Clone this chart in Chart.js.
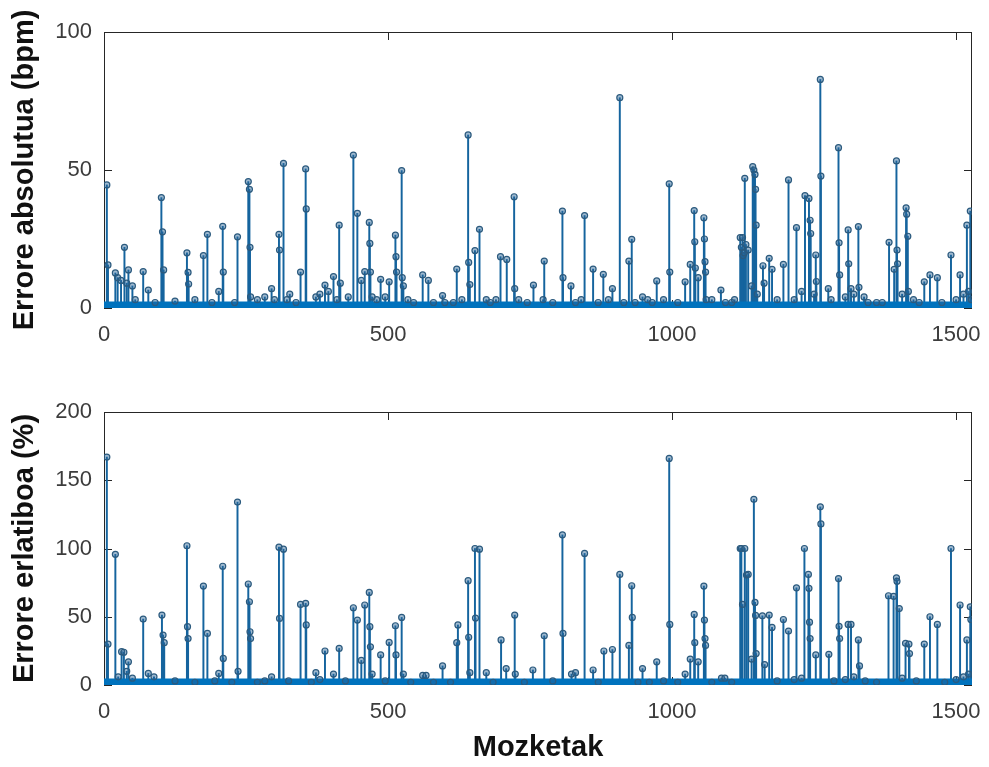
<!DOCTYPE html>
<html>
<head>
<meta charset="utf-8">
<script src="https://cdn.jsdelivr.net/npm/chart.js@4.4.1/dist/chart.umd.min.js"></script>
<style>
  html,body{margin:0;padding:0;background:#fff;}
  #wrap{position:relative;width:989px;height:767px;overflow:hidden;}
  canvas{position:absolute;left:0;}
</style>
</head>
<body>
<div id="wrap">
  <canvas id="c-abs" width="989" height="380" style="top:0"></canvas>
  <canvas id="c-rel" width="989" height="387" style="top:380px"></canvas>
</div>
<script>
// x axis
const X_MAX = 1528;
const X_TICKS = [0, 500, 1000, 1500];

// goiko grafikoa: errore absolutua (bpm)
const ABS_IDX = [
  5,7,20,24,30,36,40,43,50,55,
  69,78,90,101,103,105,125,146,148,149,
  160,175,182,190,202,209,210,230,235,254,
  256,257,258,270,283,295,300,308,309,316,
  322,327,338,346,355,356,373,380,389,395,
  404,410,414,416,430,439,446,453,459,467,
  468,469,472,480,487,495,502,513,514,515,
  524,525,527,535,545,561,571,580,596,600,
  615,621,630,641,642,644,653,661,673,680,
  690,698,709,722,723,730,745,756,773,775,
  790,807,808,822,830,840,846,861,870,879,
  888,895,908,915,924,929,935,948,957,965,
  973,985,995,996,1010,1023,1032,1039,1040,1041,
  1046,1056,1057,1058,1059,1060,1070,1086,1094,1105,
  1110,1120,1122,1124,1125,1127,1128,1130,1134,1140,
  1142,1144,1146,1147,1148,1150,1160,1162,1171,1176,
  1185,1196,1205,1215,1219,1228,1234,1241,1243,1244,
  1250,1253,1254,1261,1262,1275,1280,1293,1294,1295,
  1305,1310,1311,1315,1320,1328,1329,1338,1345,1360,
  1370,1382,1391,1395,1396,1397,1405,1412,1413,1415,
  1416,1425,1435,1444,1454,1467,1475,1491,1500,1507,
  1513,1519,1522,1525,1527
];
const ABS_VAL = [
  44.6,15.6,12.7,11,10,22,9,13.8,8,3,
  13.2,6.5,2,40,27.6,13.8,2.5,20,12.9,8.7,
  3,19,26.7,2,6,29.6,13,2,25.8,45.8,
  43,22,4,3,4,7,3,26.7,21,52.4,
  3,5,2,13,50.4,35.9,4,5,8.3,6,
  11.4,3,30,9,4,55.4,34.3,10,13.2,31,
  23.4,13,4,3,10.4,4,9.5,26.4,18.6,13,
  49.8,11,8,3,2,12,10,2,4.5,2,
  2,14.1,3,62.7,16.5,8.5,20.8,28.5,3,2,
  3,18.6,17.6,40.3,7,3,2,8.3,3,17,
  2,35.1,11,8,2,3,33.5,14.1,2,12.2,
  3,7,76.2,2,17,24.9,2,4,3,2,
  9.8,3,45,13,2,9.5,15.8,35.3,24,14.5,
  11,32.7,25,16.8,13,3,3,6.5,2,2,
  3,25.5,22,25.5,19,20,47,23,21,8,
  51.2,50,48.4,43,30,5,15.3,9,18,14,
  3,15.8,46.4,3,29.1,6,40.7,39.7,31.8,27,
  5,19.2,9.6,82.8,47.8,7,3,58.1,23.6,12,
  4,28.3,16,7,5,29.5,7.5,4,2,2,
  2,23.8,14,53.3,21,16,5,36.3,34,26,
  6,3,2,9.5,12,11,2,19.2,3,12,
  5,30,6,35.1,3
];
const ABS_TICKS = [0, 50, 100];

// beheko grafikoa: errore erlatiboa (%)
const REL_IDX = [
  5,7,20,25,31,35,40,43,50,69,
  78,88,102,104,106,125,146,147,148,160,
  175,182,195,202,209,210,225,235,236,254,
  256,257,258,270,283,295,308,309,316,325,
  346,355,356,365,373,380,389,404,414,425,
  439,446,453,459,467,468,469,472,487,495,
  502,513,514,524,527,540,561,567,580,596,
  610,621,623,641,642,644,653,654,661,673,
  685,699,708,723,724,740,755,775,790,807,
  808,823,830,846,861,870,880,895,908,924,
  929,930,940,948,960,973,985,995,996,1010,
  1023,1032,1039,1040,1046,1056,1057,1058,1059,1070,
  1087,1093,1105,1120,1122,1124,1128,1131,1134,1140,
  1144,1146,1147,1148,1159,1163,1171,1176,1185,1196,
  1205,1215,1219,1228,1233,1240,1241,1242,1243,1253,
  1261,1262,1276,1285,1293,1294,1295,1305,1310,1315,
  1320,1328,1330,1340,1360,1381,1390,1395,1396,1400,
  1405,1411,1417,1418,1430,1444,1454,1467,1480,1491,
  1500,1507,1513,1519,1522,1525,1526
];
const REL_VAL = [
  167,30,95.7,6,24.4,24,10,17,5,48.3,
  8.5,6,51.2,36.6,31,3,102,42.7,34,2,
  72.5,37.8,3,8.5,87,19.5,2,134,10,74,
  61,39,34,2,3,6,101,48.8,99.5,3,
  59,59.8,44,2,9,4,24.9,8,26.8,3,
  56.6,47.6,18,58.6,67.8,42.7,28,8,22,3,
  31.2,43.4,22,49.5,8,2,7,7,2,14,
  2,31,44,76.4,35,9,100,49,99.5,9,
  2,33,12,51.2,8,2,11,36,3,110,
  37.8,8,9,96.4,11,2,24.9,26,81,29,
  72.7,49.5,2,12,2,17,3,166,44.4,2,
  8,19,51.7,31,17,72.5,47.6,34,29,2,
  5,5,2,100,100,59,100,80.5,81,19,
  136,60.5,51,23,50.7,15,51.2,42.2,3,48,
  39.5,4,71.2,5,100,81,70.8,46,34,22,
  130.5,118,22.5,3,78,43,34,4,44.4,44.4,
  6,33,14,3,2,65.4,65,78.5,76,56,
  5,30.5,30,23,3,30,50,44.4,2,100,
  4,58.6,6,33,8,57.3,48
];
const REL_TICKS = [0, 50, 100, 150, 200];

const FONT = "'Liberation Sans', Arial, Helvetica, sans-serif";
const STEM = "#15649e";
const BASE = "#0072BD";
const AXIS = "#262626";

// MATLAB itxurako kutxa eta barnerako tick-ak
const boxPlugin = {
  id: "box",
  beforeDatasetsDraw(chart) {
    const {ctx, chartArea: a, scales: {x, y}} = chart;
    ctx.save();
    ctx.strokeStyle = AXIS;
    ctx.lineWidth = 1;
    ctx.strokeRect(a.left + 0.5, a.top + 0.5, a.right - a.left - 1, a.bottom - a.top - 1);
    ctx.beginPath();
    x.ticks.forEach(t => {
      const px = Math.round(x.getPixelForValue(t.value)) + 0.5;
      ctx.moveTo(px, a.top); ctx.lineTo(px, a.top + 8);
      ctx.moveTo(px, a.bottom); ctx.lineTo(px, a.bottom - 8);
    });
    y.ticks.forEach(t => {
      const py = Math.round(y.getPixelForValue(t.value)) + 0.5;
      ctx.moveTo(a.left, py); ctx.lineTo(a.left + 8, py);
      ctx.moveTo(a.right, py); ctx.lineTo(a.right - 8, py);
    });
    ctx.stroke();
    ctx.restore();
  }
};

function makeStem(id, idx, vals, yMax, yTicks, yTitle, xTitle, xAxisH) {
  const pts = idx.map((x, i) => ({x, y: vals[i]}));
  return new Chart(document.getElementById(id), {
    type: "bar",
    data: {
      datasets: [
        {
          type: "scatter", data: pts, order: 0,
          pointRadius: 3, pointBorderWidth: 1.2,
          pointBorderColor: "#2b5a7e", pointBackgroundColor: "rgba(40,100,150,0.45)",
          showLine: false
        },
        {
          type: "line", data: [{x: 0, y: 0}, {x: X_MAX, y: 0}], order: 1,
          borderColor: BASE, borderWidth: 13, pointRadius: 0, clip: 0
        },
        {
          type: "bar", data: pts, order: 2,
          backgroundColor: STEM, borderWidth: 0, barThickness: 1.3, grouped: false
        }
      ]
    },
    options: {
      responsive: false, animation: false, events: [],
      layout: {padding: {left: 0, top: 32, right: 17, bottom: 0}},
      plugins: {legend: {display: false}, tooltip: {enabled: false}},
      scales: {
        x: {
          type: "linear", min: 0, max: X_MAX, offset: false, bounds: "data",
          grid: {display: false, drawTicks: false, offset: false}, border: {display: false},
          afterBuildTicks: s => { s.ticks = X_TICKS.map(v => ({value: v})); },
          afterFit: s => { s.height = xAxisH; s.paddingLeft = 0; s.paddingRight = 0; },
          ticks: {font: {family: FONT, size: 22}, color: "#3c3c3c", padding: 14, maxRotation: 0,
            callback: v => String(v)},
          title: xTitle ? {display: true, text: xTitle, color: "#111",
            font: {family: FONT, size: 29, weight: "bold"}, padding: {top: 0, bottom: 2}} : {display: false}
        },
        y: {
          min: 0, max: yMax,
          grid: {display: false, drawTicks: false}, border: {display: false},
          afterBuildTicks: s => { s.ticks = yTicks.map(v => ({value: v})); },
          afterFit: s => { s.width = 104; },
          ticks: {font: {family: FONT, size: 22}, color: "#3c3c3c", padding: 12,
            callback: v => String(v)},
          title: {display: true, text: yTitle, color: "#111",
            font: {family: FONT, size: 29, weight: "bold"}, padding: {top: 8, bottom: 0}}
        }
      }
    },
    plugins: [boxPlugin]
  });
}

makeStem("c-abs", ABS_IDX, ABS_VAL, 100, ABS_TICKS, "Errore absolutua (bpm)", null, 72);
makeStem("c-rel", REL_IDX, REL_VAL, 200, REL_TICKS, "Errore erlatiboa (%)", "Mozketak", 82);
</script>
</body>
</html>
